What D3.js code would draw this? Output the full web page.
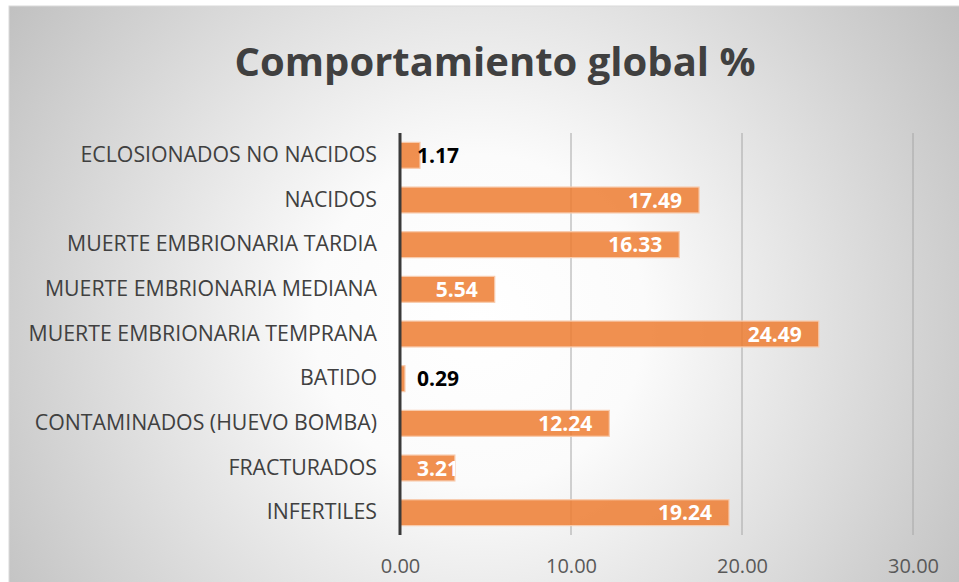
<!DOCTYPE html>
<meta charset="utf-8">
<style type="text/css">
html, body{
	padding: 0;
	margin: 0;
	background: white;
}
text {
	font-family: "Open Sans", sans-serif;
}
</style>

<svg width=959 height=582></svg>

<script type="text/javascript" src="https://cdn.jsdelivr.net/npm/d3@7"></script>

<script type="text/javascript">
	var categories = ['ECLOSIONADOS NO NACIDOS','NACIDOS','MUERTE EMBRIONARIA TARDIA','MUERTE EMBRIONARIA MEDIANA',
		'MUERTE EMBRIONARIA TEMPRANA','BATIDO','CONTAMINADOS (HUEVO BOMBA)','FRACTURADOS','INFERTILES'];
	var values = [1.17,17.49,16.33,5.54,24.49,0.29,12.24,3.21,19.24];
	var ticks = [0,10,20,30];
	var title = 'Comportamiento global %';

	var svg = d3.select('svg');
	var defs = svg.append('defs');

	var grad = defs.append('radialGradient')
		.attr('id','bg')
		.attr('gradientUnits','userSpaceOnUse')
		.attr('cx',480).attr('cy',320).attr('r',590);
	grad.append('stop').attr('offset','0%').attr('stop-color','#ffffff');
	grad.append('stop').attr('offset','28%').attr('stop-color','#fbfbfb');
	grad.append('stop').attr('offset','100%').attr('stop-color','#bdbdbd');

	// chart area
	svg.append('rect')
		.attr('x',9).attr('y',6).attr('width',980).attr('height',600)
		.style('fill','url(#bg)')
		.style('stroke','#d9d9d9').style('stroke-width',1);

	var x = d3.scaleLinear().domain([0,30]).range([400,913]);
	var y = d3.scaleBand().domain(categories).range([133,535]).paddingInner(0.42).paddingOuter(0.21);

	svg.append('text')
		.attr('x',495).attr('y',76)
		.attr('text-anchor','middle')
		.style('font-size','40px').style('font-weight','bold').style('fill','#404040')
		.text(title);

	// gridlines
	svg.append('g').selectAll('line')
		.data(ticks.slice(1))
		.enter().append('line')
		.attr('x1',d=>x(d)).attr('x2',d=>x(d))
		.attr('y1',133).attr('y2',535)
		.style('stroke','#a6a6a6').style('stroke-width',1);

	// x tick labels
	var xAxis = svg.append('g')
		.attr('transform','translate(0,535)')
		.call(d3.axisBottom(x).tickValues(ticks).tickFormat(d3.format('.2f')).tickSize(0).tickPadding(24));
	xAxis.select('.domain').remove();
	xAxis.selectAll('text').style('font-size','20px').style('fill','#595959').style('font-family','"Open Sans", sans-serif');

	// category labels
	var yAxis = svg.append('g')
		.attr('transform','translate(400,0)')
		.call(d3.axisLeft(y).tickSize(0).tickPadding(23));
	yAxis.select('.domain').remove();
	yAxis.selectAll('text').style('font-size','21.3px').style('fill','#404040').style('font-family','"Open Sans", sans-serif');

	var data = categories.map((c,p)=>{return{c:c,v:values[p],i:p}});

	data.forEach(d=>{
		defs.append('clipPath').attr('id','clip'+d.i)
			.append('rect')
			.attr('x',x(0)).attr('y',y(d.c))
			.attr('width',x(d.v)-x(0)).attr('height',y.bandwidth());
	});

	svg.append('g').selectAll('rect')
		.data(data)
		.enter().append('rect')
		.attr('x',x(0))
		.attr('y',d=>y(d.c))
		.attr('width',d=>x(d.v)-x(0))
		.attr('height',y.bandwidth())
		.style('fill','#ed7d31').style('fill-opacity',0.85)
		.style('stroke','#f8cbad').style('stroke-width',1.2);

	// value labels
	var labels = svg.append('g').selectAll('text')
		.data(data)
		.enter().append('text')
		.attr('y',d=>y(d.c)+y.bandwidth()/2)
		.attr('dy','0.36em')
		.style('font-size','21px').style('font-weight','bold')
		.style('fill',d=>d.v<2?'#000000':'#ffffff')
		.attr('clip-path',d=>d.v<2?null:'url(#clip'+d.i+')')
		.text(d=>d3.format('.2f')(d.v));

	labels.attr('x',function(d){
		var w = this.getComputedTextLength();
		var end = x(d.v)-17;
		return Math.max(end-w, x(0)+17);
	});

	// vertical axis line
	svg.append('line')
		.attr('x1',x(0)).attr('x2',x(0))
		.attr('y1',133).attr('y2',535)
		.style('stroke','#3a3a3a').style('stroke-width',3);
</script>
